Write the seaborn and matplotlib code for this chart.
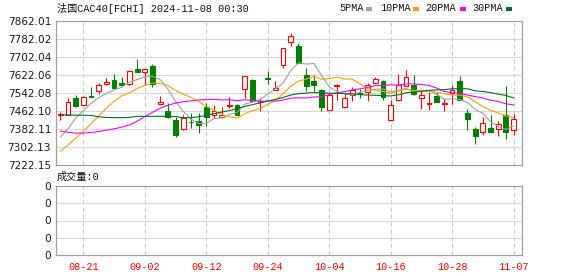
import matplotlib
matplotlib.use("Agg")
import matplotlib.pyplot as plt
from matplotlib.patches import Rectangle
import seaborn as sns
import pandas as pd

# ---------------- data ----------------
dates = ["08-16", "08-19", "08-20", "08-21", "08-22", "08-23", "08-26", "08-27", "08-28", "08-29",
         "08-30", "09-02", "09-03", "09-04", "09-05", "09-06", "09-09", "09-10", "09-11", "09-12",
         "09-13", "09-16", "09-17", "09-18", "09-19", "09-20", "09-23", "09-24", "09-25", "09-26",
         "09-27", "09-30", "10-01", "10-02", "10-03", "10-04", "10-07", "10-08", "10-09", "10-10",
         "10-11", "10-14", "10-15", "10-16", "10-17", "10-18", "10-21", "10-22", "10-23", "10-24",
         "10-25", "10-28", "10-29", "10-30", "10-31", "11-01", "11-04", "11-05", "11-06", "11-07"]

opens = [7442.4, 7445.4, 7519.8, 7487.0, 7530.0, 7549.5, 7580.8, 7600.1, 7586.7, 7580.8,
         7647.7, 7634.3, 7662.6, 7491.5, 7461.7, 7421.6, 7381.4, 7414.1, 7415.6, 7479.6,
         7442.4, 7434.9, 7484.1, 7487.0, 7560.0, 7600.1, 7501.9, 7609.0, 7554.0, 7665.6,
         7768.3, 7750.4, 7620.9, 7597.2, 7557.0, 7467.7, 7574.8, 7478.1, 7531.7, 7543.6,
         7546.6, 7585.2, 7595.7, 7423.0, 7512.4, 7571.8, 7579.3, 7518.3, 7494.5, 7528.7,
         7493.0, 7540.6, 7595.7, 7451.3, 7381.4, 7366.5, 7385.9, 7381.4, 7442.4, 7375.5]
highs = [7455.8, 7519.8, 7534.6, 7528.7, 7568.9, 7585.2, 7609.0, 7626.9, 7612.0, 7646.2,
         7693.9, 7647.7, 7671.5, 7527.2, 7496.0, 7436.4, 7445.4, 7452.8, 7452.8, 7497.5,
         7487.0, 7478.1, 7522.8, 7493.0, 7616.5, 7604.6, 7519.8, 7638.8, 7597.2, 7743.0,
         7810.0, 7765.3, 7653.7, 7620.9, 7560.0, 7537.6, 7583.8, 7542.1, 7567.4, 7561.4,
         7586.7, 7612.0, 7601.6, 7509.4, 7626.9, 7646.2, 7620.9, 7549.5, 7546.6, 7546.6,
         7519.8, 7579.3, 7616.5, 7472.2, 7388.8, 7434.9, 7442.4, 7418.6, 7571.8, 7448.4]
lows = [7423.0, 7444.0, 7478.0, 7485.6, 7524.0, 7537.6, 7579.5, 7564.4, 7578.5, 7579.3,
        7634.0, 7579.3, 7567.4, 7487.0, 7432.0, 7345.7, 7378.4, 7385.9, 7363.5, 7393.3,
        7430.5, 7430.5, 7475.1, 7442.4, 7519.8, 7504.9, 7460.2, 7583.8, 7554.0, 7653.7,
        7750.4, 7676.0, 7549.5, 7552.5, 7460.2, 7464.7, 7512.4, 7475.1, 7507.9, 7519.8,
        7504.9, 7585.0, 7512.4, 7423.0, 7507.9, 7571.8, 7531.7, 7472.2, 7467.7, 7503.0,
        7460.2, 7493.0, 7512.0, 7378.4, 7314.4, 7356.1, 7369.0, 7348.6, 7338.2, 7353.1]
closes = [7448.0, 7500.4, 7482.6, 7522.7, 7525.7, 7576.3, 7591.2, 7565.9, 7579.3, 7641.8,
          7634.3, 7647.7, 7583.8, 7502.0, 7433.5, 7353.1, 7430.5, 7411.2, 7400.7, 7434.9,
          7463.2, 7445.4, 7488.5, 7445.4, 7616.5, 7507.9, 7507.9, 7606.1, 7564.4, 7743.0,
          7795.1, 7676.0, 7574.8, 7579.3, 7478.1, 7534.6, 7577.8, 7519.8, 7557.0, 7539.1,
          7576.3, 7604.6, 7522.8, 7490.0, 7579.3, 7612.0, 7537.6, 7531.7, 7497.5, 7503.4,
          7496.0, 7557.0, 7512.4, 7427.5, 7351.6, 7406.7, 7369.5, 7403.7, 7369.5, 7426.0]

ma5 = [7346, 7383, 7430, 7463, 7496, 7521, 7540, 7556, 7568, 7591,
       7602, 7614, 7617, 7602, 7560, 7504, 7461, 7426, 7406, 7406,
       7428, 7431, 7446, 7455, 7492, 7501, 7513, 7537, 7561, 7586,
       7643, 7677, 7671, 7674, 7621, 7569, 7549, 7538, 7533, 7546,
       7554, 7559, 7560, 7547, 7555, 7562, 7548, 7550, 7552, 7536,
       7513, 7517, 7513, 7499, 7469, 7451, 7414, 7392, 7380, 7395]
ma10 = [7282, 7310, 7340, 7372, 7405, 7440, 7475, 7505, 7530, 7543,
        7562, 7577, 7587, 7585, 7576, 7553, 7537, 7522, 7504, 7483,
        7466, 7446, 7436, 7431, 7449, 7464, 7472, 7492, 7508, 7539,
        7572, 7595, 7604, 7617, 7603, 7606, 7613, 7604, 7604, 7583,
        7561, 7554, 7549, 7540, 7550, 7558, 7554, 7555, 7549, 7546,
        7538, 7533, 7532, 7525, 7503, 7482, 7465, 7453, 7440, 7432]
ma20 = [7372, 7367, 7363, 7363, 7366, 7370, 7376, 7382, 7390, 7400,
        7416, 7437, 7456, 7474, 7487, 7497, 7503, 7507, 7511, 7513,
        7514, 7511, 7512, 7508, 7512, 7509, 7505, 7507, 7506, 7511,
        7519, 7521, 7520, 7524, 7526, 7535, 7543, 7548, 7556, 7561,
        7567, 7575, 7576, 7579, 7577, 7582, 7583, 7580, 7576, 7564,
        7549, 7543, 7540, 7533, 7526, 7520, 7510, 7504, 7494, 7489]
ma30 = [7444, 7444, 7443, 7443, 7442, 7436, 7433, 7432, 7432, 7433,
        7438, 7438, 7438, 7438, 7438, 7437, 7432, 7432, 7436, 7442,
        7450, 7457, 7464, 7472, 7482, 7490, 7498, 7506, 7514, 7522,
        7533, 7539, 7542, 7544, 7543, 7541, 7541, 7539, 7539, 7535,
        7533, 7532, 7530, 7529, 7534, 7543, 7546, 7550, 7554, 7556,
        7557, 7561, 7561, 7561, 7552, 7549, 7544, 7537, 7531, 7520]

ytick_labels = ["7862.01", "7782.02", "7702.04", "7622.06", "7542.08",
                "7462.10", "7382.11", "7302.13", "7222.15"]
xtick_labels = ["08-21", "09-02", "09-12", "09-24", "10-04", "10-16", "10-28", "11-07"]
ma_names = ["5PMA", "10PMA", "20PMA", "30PMA"]
volume_labels = ["0", "0", "0", "0", "0"]
title_text = "法国CAC40[FCHI] 2024-11-08 00:30"
volume_title = "成交量:0"

# ---------------- style ----------------
sns.set_theme(style="white")
plt.rcParams["font.family"] = ["DejaVu Sans"]

UP = "#ff0000"
DOWN = "#008000"
MA_COLORS = ["#a0a0a0", "#f5a300", "#ff00ff", "#006f2e"]
SPINE = "#a0a0a0"
GRID = "#d8d8d8"
MONO = ["Liberation Mono", "Noto Sans CJK SC"]

W, H = 578, 276
fig = plt.figure(figsize=(W / 100, H / 100), dpi=100)
fig.patch.set_facecolor("white")


def fx(px):
    return px / W


def fy(py):
    return 1 - py / H


L, R = 56, 522
ax = fig.add_axes([fx(L), fy(164.7), (R - L) / W, (164.7 - 21.3) / H])
axv = fig.add_axes([fx(L), fy(255), (R - L) / W, (255 - 186) / H])

df = pd.DataFrame({"i": range(len(dates)), "date": dates, "open": opens, "high": highs,
                   "low": lows, "close": closes, "ma5": ma5, "ma10": ma10,
                   "ma20": ma20, "ma30": ma30})

yvals = [float(s) for s in ytick_labels]
ymin, ymax = min(yvals), max(yvals)
xpos = [dates.index(d) for d in xtick_labels]

for a in (ax, axv):
    a.set_facecolor("white")
    a.set_xlim(-0.56, 60.1)
    for s in a.spines.values():
        s.set_color(SPINE)
        s.set_linewidth(0.9)
    for xp in xpos:
        a.axvline(xp, color="#c8c8c8", lw=0.75, ls=(0, (4, 3)), zorder=0)

# horizontal grid
ax.set_ylim(ymin, ymax)
for yv in yvals[1:-1]:
    ax.axhline(yv, color=GRID, lw=0.8, zorder=0)

# candles
body_w = 0.62
for _, r in df.iterrows():
    up = r["close"] >= r["open"]
    col = UP if up else DOWN
    lo_b, hi_b = min(r["open"], r["close"]), max(r["open"], r["close"])
    h = max(hi_b - lo_b, 0.8)
    ax.vlines(r["i"], r["low"], r["high"], color=col, lw=0.8, zorder=2)
    ax.bar(r["i"], h, bottom=lo_b, width=body_w,
           facecolor="white" if up else col, edgecolor=col, linewidth=0.8, zorder=3)

# moving averages
for name, colr in zip(["ma5", "ma10", "ma20", "ma30"], MA_COLORS):
    sns.lineplot(data=df, x="i", y=name, color=colr, lw=0.8, ax=ax, legend=False,
                 zorder=4, estimator=None)

ax.set_yticks(yvals)
ax.set_yticklabels(ytick_labels)
ax.set_xticks(xpos)
ax.set_xticklabels([])
ax.tick_params(axis="y", length=2, width=0.8, color=SPINE, pad=1.5,
               labelsize=7.6, labelcolor="#1a1a1a")
ax.tick_params(axis="x", length=0)
ax.set_xlabel("")
ax.set_ylabel("")

# volume panel
axv.set_ylim(0, 4)
for yv in [1, 2, 3]:
    axv.axhline(yv, color=GRID, lw=0.8, zorder=0)
axv.set_yticks(range(5))
axv.set_yticklabels(volume_labels)
axv.set_xticks(xpos)
axv.set_xticklabels(xtick_labels, fontfamily=MONO, fontsize=7.3, color="#ff0000")
axv.tick_params(axis="y", length=2, width=0.8, color=SPINE, pad=1.5,
                labelsize=7.6, labelcolor="#1a1a1a")
axv.tick_params(axis="x", length=0, pad=5)

# texts
fig.text(fx(57), fy(8), title_text, family=MONO, fontsize=7.3, color="#111111",
         ha="left", va="center")
fig.text(fx(57), fy(177), volume_title, family=MONO, fontsize=7.3, color="#111111",
         ha="left", va="center")

leg_text_x = [339, 380, 425, 472]
leg_box_x = [366, 413, 460, 506]
for name, colr, tx, bx in zip(ma_names, MA_COLORS, leg_text_x, leg_box_x):
    fig.text(fx(tx), fy(8), name, family=MONO, fontsize=7.3, color="#111111",
             ha="left", va="center")
    fig.patches.append(Rectangle((fx(bx), fy(11)), 6 / W, 4 / H, transform=fig.transFigure,
                                 facecolor=colr, edgecolor="none"))

fig.savefig("out.png", dpi=100, facecolor="white")
